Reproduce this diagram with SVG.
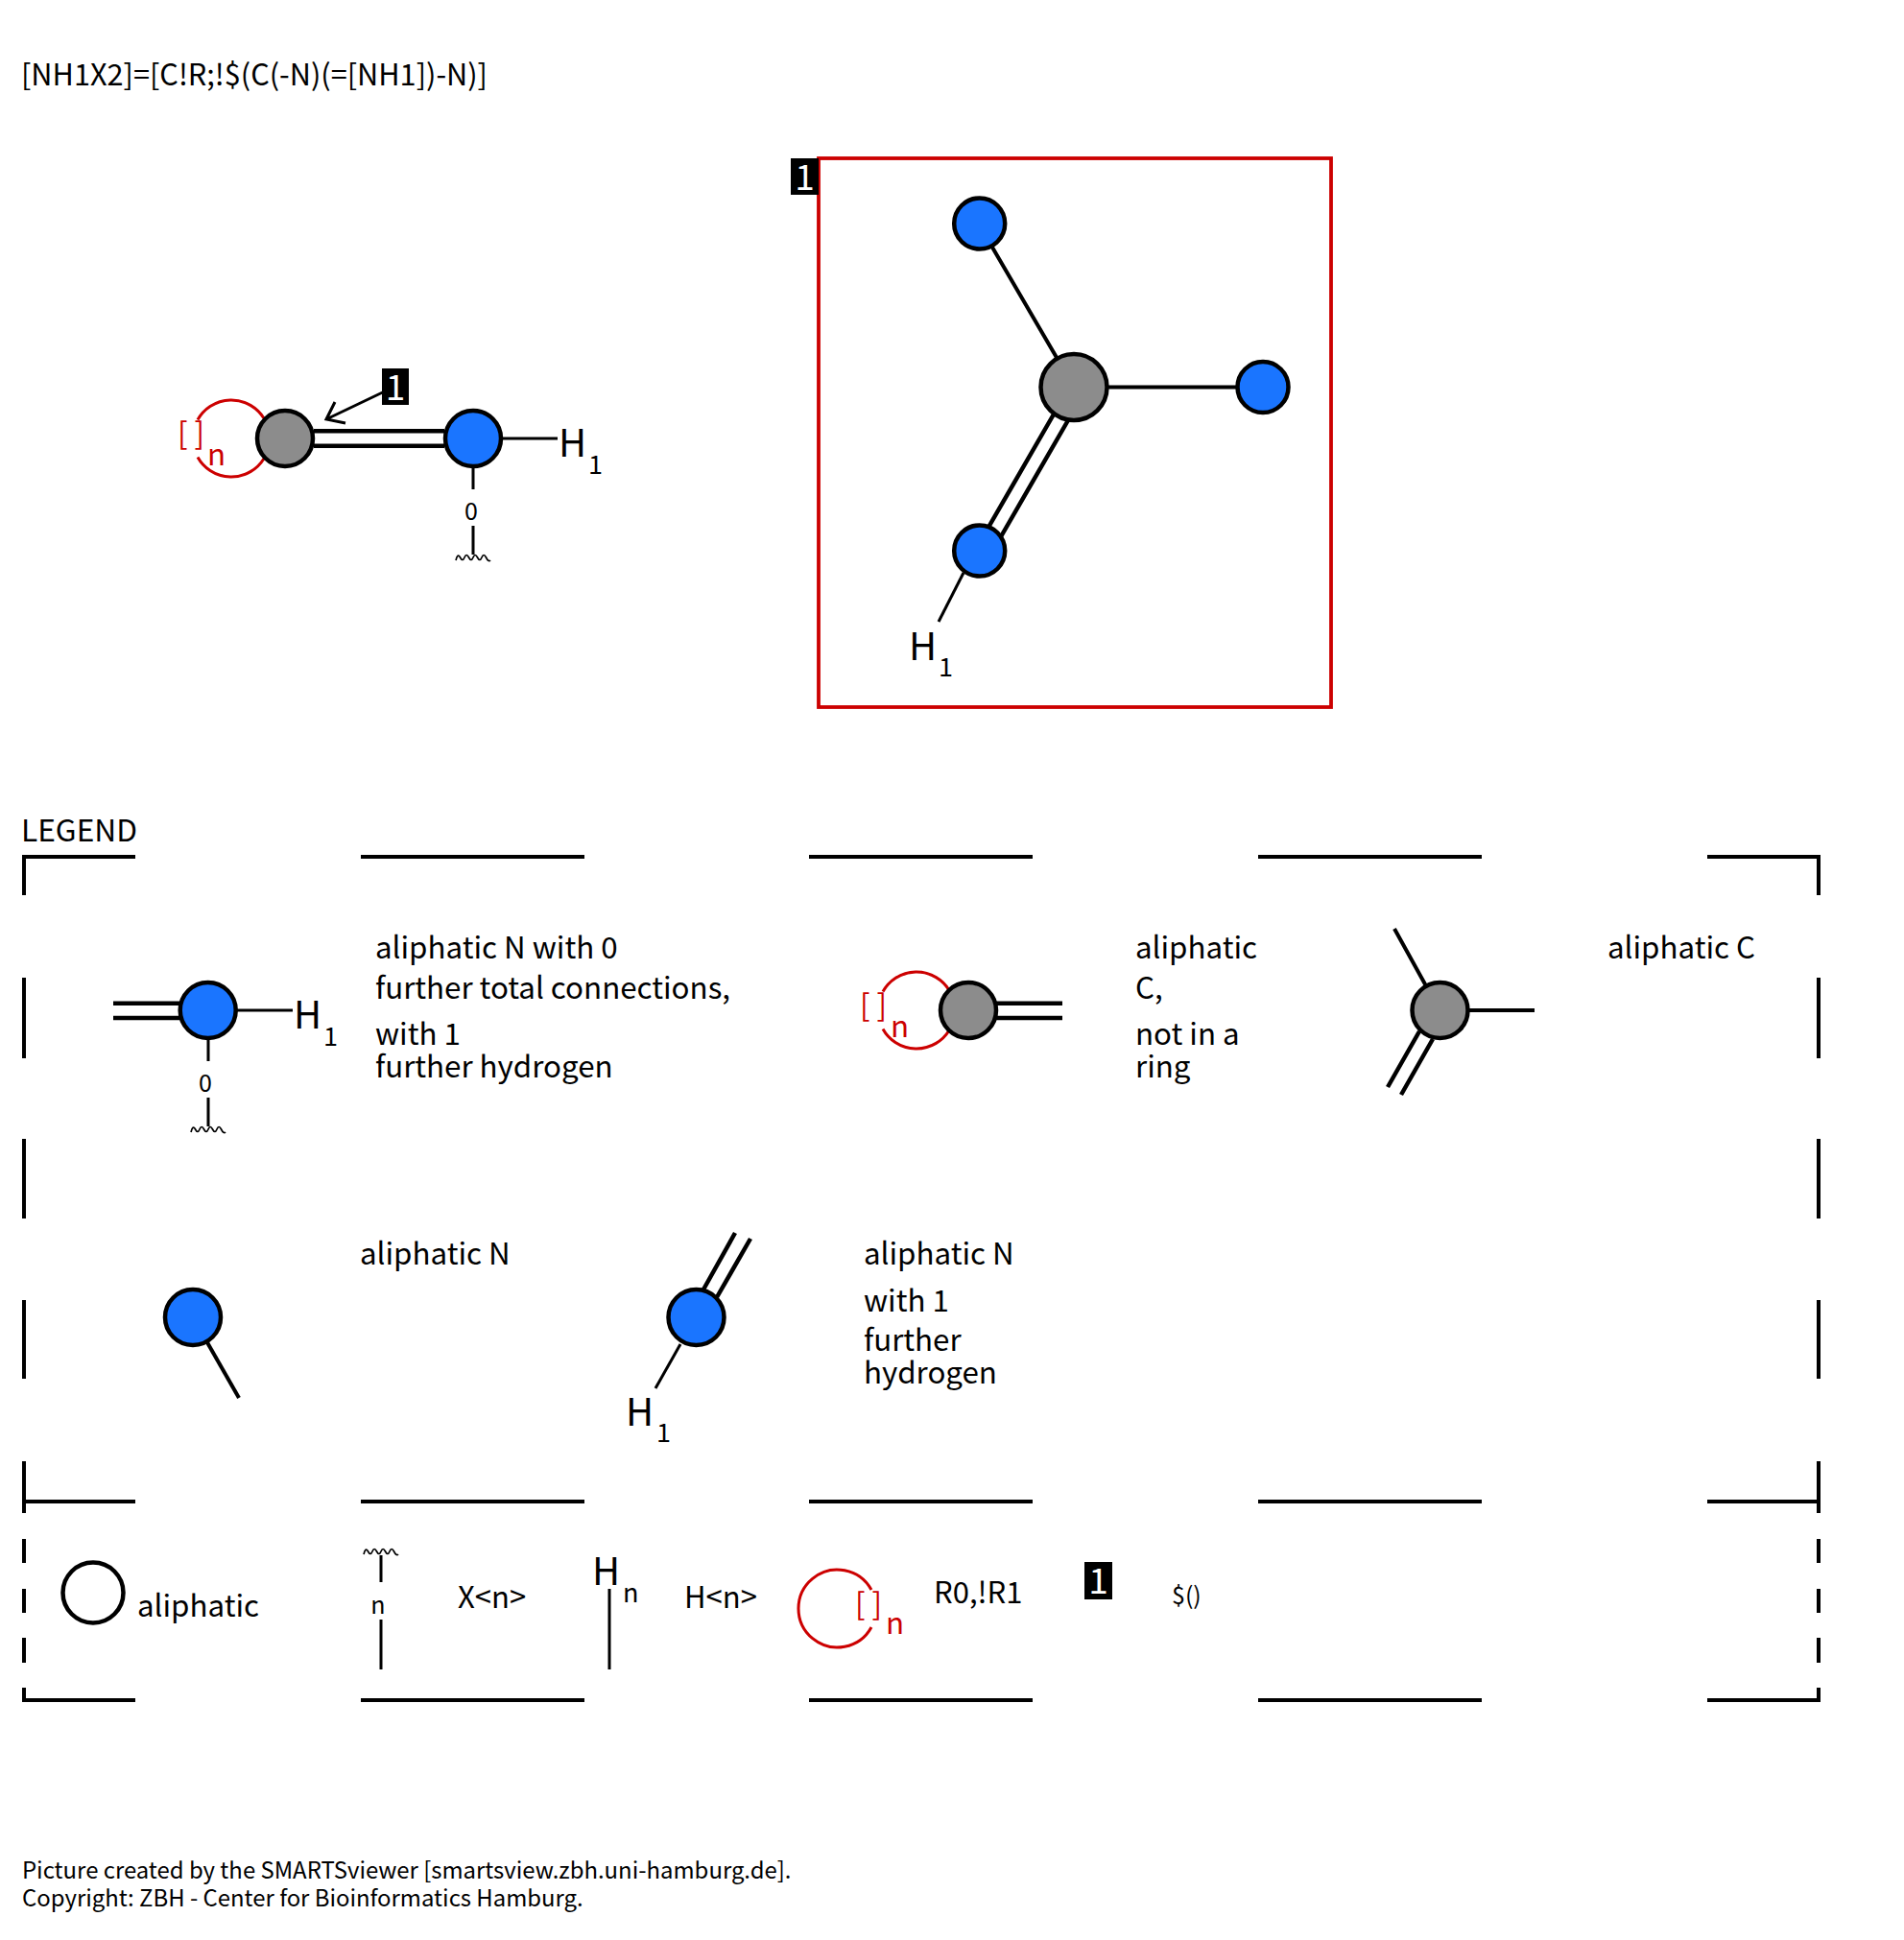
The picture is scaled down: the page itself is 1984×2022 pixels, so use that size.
<svg xmlns="http://www.w3.org/2000/svg" xmlns:xlink="http://www.w3.org/1999/xlink" width="1984" height="2022" viewBox="0 0 1984 2022">
<style>
text{font-family:"Noto Sans CJK SC","Noto Sans",sans-serif;fill:#000}
.t{font-size:31.300px}
.h{font-size:40px}
.s{font-size:27px}
.z{font-size:25px}
.k{font-size:31px}
.r{fill:#cc0000}
.w{fill:#fff;font-size:37px;text-anchor:middle}
.l{stroke:#000;stroke-width:3;fill:none}
.b{stroke:#000;stroke-width:4.500;fill:none}
.f{stroke:#000;stroke-width:4;fill:none}
.o{stroke:#cc0000;stroke-width:3;fill:none}
.a{stroke:#000;stroke-width:4.500;fill:#8c8c8c}
.n{stroke:#000;stroke-width:4.500;fill:#1a75ff}
.v{stroke:#000;stroke-width:1.700;fill:none}
</style>
<defs>
<path id="wig" class="v" d="M-18 3Q-16 -5 -13.500 0T-9 0T-4.500 0T0 0T4.500 0T9 0T13.500 0T18 3"/>
</defs>
<rect width="1984" height="2022" fill="#fff"/>
<text x="22" y="89" style="font-size:30.700px">[NH1X2]=[C!R;!$(C(-N)(=[NH1])-N)]</text>
<g id="connectors">
<path class="b" d="M327 449.300H463M327 464.700H463"/>
<path class="l" d="M524 457H581M493 487V510M493 548V578"/>
<use xlink:href="#wig" x="493" y="581"/>
<path class="l" d="M398.600 409L340 437M349 419L340 437L360 441"/>
<path class="o" d="M206 437.600A40 40 0 0 1 275 436M206 476.400A40 40 0 0 0 275 478"/>
<path class="f" d="M1119 403.500L1033 256M1119 403.500H1290"/>
<path class="b" d="M1099 430L1028 553M1113 438L1042 561"/>
<path class="l" d="M1004 597L978 648"/>
<path class="b" d="M118 1045.700H188M118 1061H188"/>
<path class="l" d="M245 1053H305M217 1084V1106M217 1144V1174"/>
<use xlink:href="#wig" x="217" y="1177"/>
<path class="b" d="M1038 1045.700H1107M1038 1061H1107"/>
<path class="o" d="M920 1033.600A40 40 0 0 1 989 1032M920 1072.400A40 40 0 0 0 989 1074"/>
<path class="f" d="M1500 1053L1453 968M1500 1053H1599"/>
<path class="b" d="M1479 1075L1446 1133M1493 1083L1460 1141"/>
<path class="f" d="M201 1373L249 1457"/>
<path class="b" d="M733 1344L766 1285M747 1352L782 1291"/>
<path class="l" d="M709 1401L683 1447"/>
<path class="f" d="M25 933V893H141M376 893H609M843 893H1076M1311 893H1544M1779 893H1895V933"/>
<path class="f" d="M25 1019V1103M25 1187V1270M25 1355V1437M25 1523V1577"/>
<path class="f" d="M1895 1019V1103M1895 1187V1270M1895 1355V1437M1895 1523V1577"/>
<path class="f" d="M25 1565H141M376 1565H609M843 1565H1076M1311 1565H1544M1779 1565H1895"/>
<path class="f" d="M25 1604V1629M25 1656V1681M25 1707V1733M25 1759V1772H141M376 1772H609M843 1772H1076M1311 1772H1544M1779 1772H1895V1759M1895 1733V1707M1895 1681V1656M1895 1629V1604"/>
<use xlink:href="#wig" x="397" y="1617"/>
<path class="l" d="M397 1621V1649M397 1688V1740M635 1656V1740"/>
<path class="o" d="M908 1657A40.500 40.500 0 1 0 908 1696"/>
</g>
<g id="main-c"><circle class="a" cx="297" cy="457" r="29"/></g>
<g id="main-n"><circle class="n" cx="493" cy="457" r="29"/></g>
<g id="main-labels">
<text class="h" x="582" y="476">H</text><text class="s" x="613" y="494">1</text>
<text class="z" x="491" y="542" text-anchor="middle">0</text>
<text class="t r" x="185" y="463">[ ]</text><text class="t r" x="216" y="485">n</text>
</g>
<g id="tag-1"><rect x="398" y="384" width="28" height="38" fill="#000"/><text class="w" x="412" y="417">1</text></g>
<g id="tag-frame">
<rect x="853" y="165" width="534" height="572" fill="none" stroke="#cc0000" stroke-width="3.800"/>
<rect x="824" y="165" width="29" height="38" fill="#000"/><text class="w" x="838.500" y="198">1</text>
</g>
<g id="frag-c"><circle class="a" cx="1119" cy="403.500" r="34.500"/></g>
<g id="frag-n1"><circle class="n" cx="1020.700" cy="233" r="26.500"/></g>
<g id="frag-n2"><circle class="n" cx="1316" cy="403.500" r="26.500"/></g>
<g id="frag-n3"><circle class="n" cx="1020.700" cy="574" r="26.500"/>
<text class="h" x="947" y="688">H</text><text class="s" x="978" y="705">1</text></g>
<text x="22" y="877" style="font-size:31.700px">LEGEND</text>
<g id="leg-1"><circle class="n" cx="216.700" cy="1053" r="29"/>
<text class="h" x="306" y="1072">H</text><text class="s" x="337" y="1090">1</text>
<text class="z" x="214" y="1138" text-anchor="middle">0</text>
<text class="t" x="391" y="999">aliphatic N with 0</text>
<text class="t" x="391" y="1041">further total connections,</text>
<text class="t" x="391" y="1089">with 1</text>
<text class="t" x="391" y="1123">further hydrogen</text></g>
<g id="leg-2"><circle class="a" cx="1009" cy="1053" r="29"/>
<text class="t r" x="896" y="1059">[ ]</text><text class="t r" x="928" y="1081">n</text>
<text class="t" x="1183" y="999">aliphatic</text>
<text class="t" x="1183" y="1041">C,</text>
<text class="t" x="1183" y="1089">not in a</text>
<text class="t" x="1183" y="1123">ring</text></g>
<g id="leg-3"><circle class="a" cx="1500.500" cy="1053" r="29"/><text class="t" x="1675" y="999">aliphatic C</text></g>
<g id="leg-4"><circle class="n" cx="201" cy="1373" r="29"/><text class="t" x="375" y="1318">aliphatic N</text></g>
<g id="leg-5"><circle class="n" cx="725.500" cy="1373" r="29"/>
<text class="h" x="652" y="1486">H</text><text class="s" x="684" y="1503">1</text>
<text class="t" x="900" y="1318">aliphatic N</text>
<text class="t" x="900" y="1367">with 1</text>
<text class="t" x="900" y="1408">further</text>
<text class="t" x="900" y="1442">hydrogen</text></g>
<g id="key-aliphatic"><circle class="f" cx="97" cy="1660" r="31.500" style="stroke-width:4.500"/><text class="t" x="143" y="1685">aliphatic</text></g>
<g id="key-x"><text class="z" x="394" y="1682" text-anchor="middle">n</text><text class="k" x="477" y="1676">X&lt;n&gt;</text></g>
<g id="key-h"><text class="h" x="617" y="1652">H</text><text class="s" x="649" y="1670">n</text><text class="k" x="713" y="1676">H&lt;n&gt;</text></g>
<g id="key-ring"><text class="t r" x="891" y="1683">[ ]</text><text class="t r" x="923" y="1703">n</text><text class="k" x="973" y="1671">R0,!R1</text></g>
<g id="key-tag"><rect x="1130" y="1628" width="29" height="39" fill="#000"/><text class="w" x="1144.500" y="1661">1</text><text x="1221" y="1672" style="font-size:25px">$()</text></g>
<text x="23" y="1958" style="font-size:23.900px">Picture created by the SMARTSviewer [smartsview.zbh.uni-hamburg.de].</text>
<text x="23" y="1987" style="font-size:23.900px">Copyright: ZBH - Center for Bioinformatics Hamburg.</text>
</svg>
